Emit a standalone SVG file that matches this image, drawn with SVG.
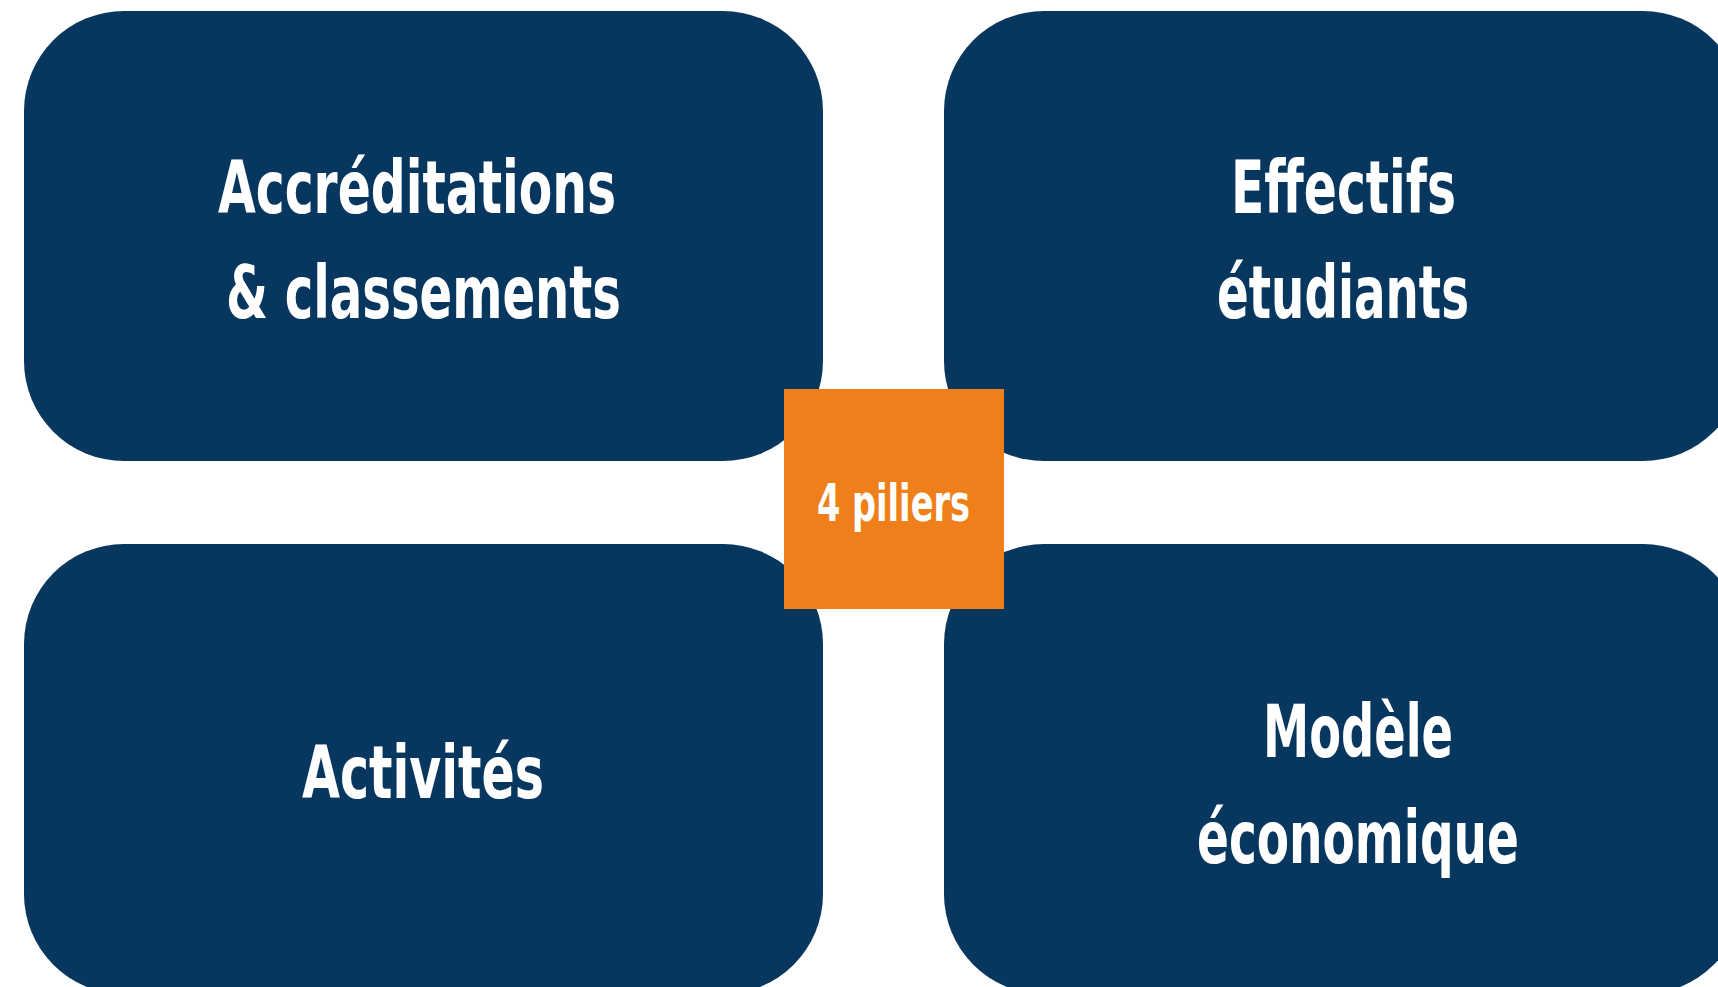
<svg xmlns="http://www.w3.org/2000/svg" width="1718" height="987" viewBox="0 0 1718 987">
  <style>
    .box { fill: #07365E; }
    .hub { fill: #EF7F1A; }
    .lbl { fill: #FFFFFF; font-family: "Liberation Sans Narrow", "DejaVu Sans Condensed", "Liberation Sans", sans-serif; font-weight: bold; font-size: 73px; text-anchor: middle; }
    .hublbl { font-size: 52px; }
  </style>
  <rect width="1718" height="987" fill="#FFFFFF"/>
  <g id="connectors"/>
  <g id="node-accreditations">
    <rect class="box" x="24" y="11" width="799" height="450" rx="100" ry="100"/>
    <text class="lbl" x="417" y="213" textLength="398" lengthAdjust="spacingAndGlyphs">Accréditations</text>
    <text class="lbl" x="423.5" y="318" textLength="395" lengthAdjust="spacingAndGlyphs">&amp; classements</text>
  </g>
  <g id="node-effectifs">
    <rect class="box" x="944" y="11" width="799" height="450" rx="100" ry="100"/>
    <text class="lbl" x="1343.5" y="213" textLength="225" lengthAdjust="spacingAndGlyphs">Effectifs</text>
    <text class="lbl" x="1343" y="318" textLength="252" lengthAdjust="spacingAndGlyphs">étudiants</text>
  </g>
  <g id="node-activites">
    <rect class="box" x="24" y="544" width="799" height="450" rx="100" ry="100"/>
    <text class="lbl" x="423" y="798" textLength="242" lengthAdjust="spacingAndGlyphs">Activités</text>
  </g>
  <g id="node-modele">
    <rect class="box" x="944" y="544" width="799" height="450" rx="100" ry="100"/>
    <text class="lbl" x="1358" y="757" textLength="190" lengthAdjust="spacingAndGlyphs">Modèle</text>
    <text class="lbl" x="1358" y="863" textLength="322" lengthAdjust="spacingAndGlyphs">économique</text>
  </g>
  <g id="node-piliers">
    <rect class="hub" x="784" y="389" width="220" height="220"/>
    <text class="lbl hublbl" x="893.5" y="521" textLength="153" lengthAdjust="spacingAndGlyphs">4 piliers</text>
  </g>
</svg>
